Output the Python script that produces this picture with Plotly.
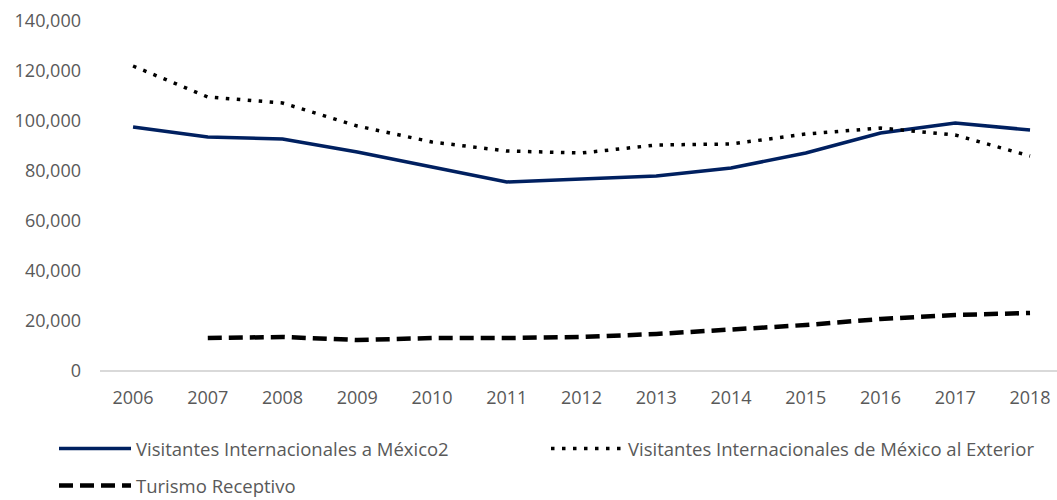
import plotly.graph_objects as go

years = [2006, 2007, 2008, 2009, 2010, 2011, 2012, 2013, 2014, 2015, 2016, 2017, 2018]
visitantes_mexico = [97600, 93600, 92800, 87600, 81600, 75600, 76800, 78000, 81200, 87200, 95200, 99200, 96400]
visitantes_exterior = [122000, 109600, 107200, 98000, 91600, 88000, 87200, 90400, 90800, 94800, 97200, 94400, 86000]
turismo_years = [2007, 2008, 2009, 2010, 2011, 2012, 2013, 2014, 2015, 2016, 2017, 2018]
turismo_receptivo = [13200, 13600, 12400, 13200, 13200, 13600, 14800, 16400, 18400, 20800, 22400, 23200]
y_ticks = [0, 20000, 40000, 60000, 80000, 100000, 120000, 140000]

FONT = "Open Sans"
GRAY = "#595959"
FS = 18
LFS = 18.5

fig = go.Figure()
fig.add_trace(go.Scatter(x=years, y=visitantes_mexico, mode="lines",
                         name="Visitantes Internacionales a México2",
                         line=dict(color="#002060", width=3.5), legend="legend"))
fig.add_trace(go.Scatter(x=years, y=visitantes_exterior, mode="lines",
                         name="Visitantes Internacionales de México al Exterior",
                         line=dict(color="#000000", width=3.5, dash="3.5px,7.5px"), legend="legend"))
fig.add_trace(go.Scatter(x=turismo_years, y=turismo_receptivo, mode="lines",
                         name="Turismo Receptivo",
                         line=dict(color="#000000", width=4.5, dash="14px,7px"), legend="legend2"))

leg_common = dict(orientation="h", xref="paper", yref="paper",
                  xanchor="left", yanchor="middle", itemwidth=72,
                  bgcolor="rgba(0,0,0,0)",
                  font=dict(family=FONT, size=LFS, color=GRAY))

fig.update_layout(
    width=1057, height=500,
    margin=dict(l=100, r=0, t=21, b=129, autoexpand=False),
    paper_bgcolor="white", plot_bgcolor="white",
    font=dict(family=FONT, size=FS, color=GRAY),
    showlegend=True,
    legend=dict(x=(54 - 100) / 957, y=(371 - 449) / 350, entrywidth=405,
                entrywidthmode="pixels", **leg_common),
    legend2=dict(x=(54 - 100) / 957, y=(371 - 486) / 350, **leg_common),
)
fig.update_xaxes(range=[2005.558, 2018.361], tickvals=years,
                 ticktext=[str(y) for y in years],
                 showgrid=False, zeroline=False, showline=False,
                 ticks="", ticklabelstandoff=14,
                 tickfont=dict(family=FONT, size=FS, color=GRAY))
fig.update_yaxes(range=[0, 140000], tickvals=y_ticks,
                 ticktext=[f"{v:,}" for v in y_ticks],
                 showgrid=False, zeroline=True, zerolinecolor="#d9d9d9", zerolinewidth=1.5,
                 showline=False, ticks="", ticklabelstandoff=18,
                 tickfont=dict(family=FONT, size=FS, color=GRAY))

fig.write_html("out.html", config={"displayModeBar": False},
               post_script="document.body.style.margin='0';document.body.style.overflow='hidden';")
